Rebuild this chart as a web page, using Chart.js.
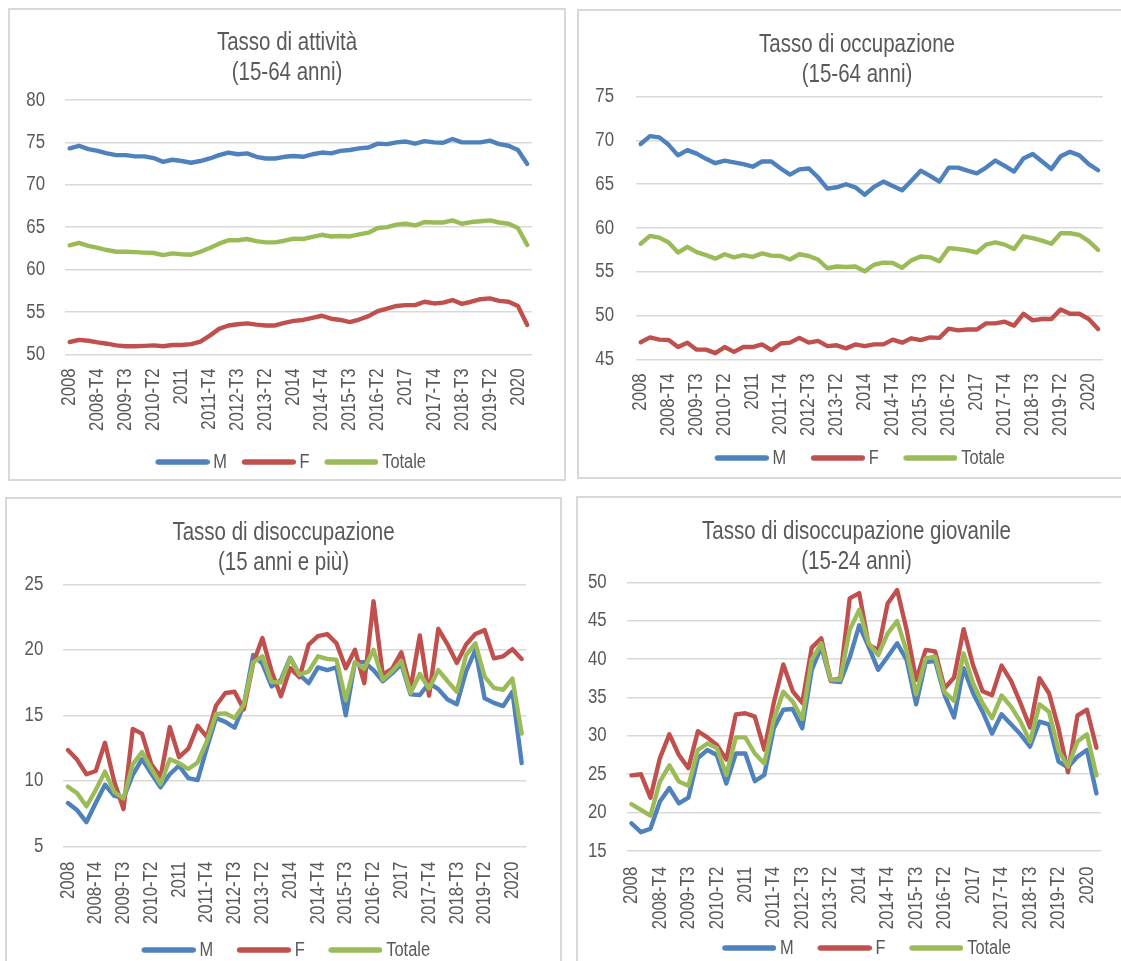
<!DOCTYPE html>
<html><head><meta charset="utf-8">
<script src="https://cdn.jsdelivr.net/npm/chart.js@4.4.1/dist/chart.umd.min.js"></script>
<style>
html,body{margin:0;padding:0;width:1121px;height:961px;overflow:hidden;background:#fff;}
canvas{position:absolute;}
.b{position:absolute;border:2px solid #d9d9d9;box-sizing:border-box;pointer-events:none;}
</style></head><body>
<script>
// ---- categories (quarters 2008-T1 .. 2020-T2) ----
const quarters = ['2008','2008-T2','2008-T3','2008-T4','2009','2009-T2','2009-T3','2009-T4',
 '2010','2010-T2','2010-T3','2010-T4','2011','2011-T2','2011-T3','2011-T4',
 '2012','2012-T2','2012-T3','2012-T4','2013','2013-T2','2013-T3','2013-T4',
 '2014','2014-T2','2014-T3','2014-T4','2015','2015-T2','2015-T3','2015-T4',
 '2016','2016-T2','2016-T3','2016-T4','2017','2017-T2','2017-T3','2017-T4',
 '2018','2018-T2','2018-T3','2018-T4','2019','2019-T2','2019-T3','2019-T4',
 '2020','2020-T2'];
const seriesNames = ['M','F','Totale'];

// ---- Tasso di attività (15-64 anni) ----
const attM = [74.3,74.6,74.2,74.0,73.7,73.5,73.5,73.35,73.35,73.15,72.7,72.95,72.8,72.6,72.8,73.1,73.5,73.8,73.6,73.7,73.3,73.1,73.1,73.3,73.4,73.3,73.6,73.8,73.7,74.0,74.1,74.3,74.4,74.85,74.8,75.0,75.1,74.85,75.15,75.0,74.95,75.4,75.0,75.0,75.0,75.2,74.8,74.6,74.1,72.45];
const attF = [51.45,51.7,51.6,51.4,51.25,51.05,50.95,50.95,51.0,51.05,50.95,51.1,51.1,51.2,51.5,52.2,53.0,53.4,53.55,53.65,53.5,53.4,53.4,53.7,53.95,54.05,54.3,54.55,54.2,54.05,53.8,54.1,54.5,55.1,55.4,55.7,55.8,55.8,56.2,56.0,56.1,56.4,55.95,56.2,56.5,56.6,56.3,56.2,55.7,53.45];
const attT = [62.85,63.15,62.8,62.55,62.3,62.1,62.1,62.05,62.0,61.95,61.7,61.9,61.8,61.75,62.1,62.55,63.05,63.45,63.45,63.6,63.35,63.2,63.2,63.4,63.65,63.6,63.85,64.1,63.9,63.95,63.9,64.15,64.35,64.9,65.0,65.3,65.4,65.2,65.6,65.55,65.55,65.8,65.4,65.6,65.7,65.8,65.55,65.4,64.9,62.9];

// ---- Tasso di occupazione (15-64 anni) ----
const occM = [69.6,70.5,70.35,69.5,68.3,68.9,68.5,67.9,67.4,67.7,67.5,67.3,67.0,67.6,67.6,66.8,66.1,66.7,66.8,65.8,64.5,64.65,65.0,64.65,63.8,64.7,65.3,64.8,64.3,65.4,66.55,65.95,65.3,66.9,66.9,66.55,66.25,66.9,67.7,67.1,66.45,67.95,68.45,67.6,66.75,68.2,68.7,68.3,67.3,66.6];
const occF = [46.95,47.5,47.25,47.2,46.4,46.9,46.1,46.1,45.7,46.4,45.85,46.4,46.4,46.7,46.05,46.8,46.9,47.45,46.9,47.1,46.5,46.6,46.25,46.7,46.5,46.7,46.7,47.25,46.9,47.4,47.2,47.5,47.45,48.5,48.3,48.4,48.4,49.1,49.1,49.3,48.85,50.2,49.45,49.6,49.6,50.7,50.2,50.2,49.6,48.45];
const occT = [58.2,59.1,58.9,58.35,57.2,57.85,57.25,56.9,56.5,57.0,56.65,56.9,56.7,57.1,56.85,56.8,56.4,57.0,56.8,56.4,55.4,55.6,55.55,55.6,55.05,55.8,56.05,56.0,55.45,56.3,56.75,56.65,56.2,57.7,57.6,57.45,57.2,58.1,58.35,58.1,57.6,59.05,58.85,58.55,58.2,59.4,59.4,59.2,58.5,57.5];

// ---- Tasso di disoccupazione (15 anni e più) ----
const disM = [8.3,7.75,6.85,8.3,9.7,8.85,8.7,10.45,11.65,10.55,9.5,10.5,11.15,10.2,10.05,12.5,14.8,14.5,14.05,15.8,19.6,18.95,17.2,17.7,19.4,18.1,17.45,18.65,18.45,18.65,15.0,19.05,19.05,18.45,17.6,18.2,18.9,16.6,16.55,17.45,17.0,16.2,15.85,18.35,20.0,16.3,15.95,15.7,16.8,11.35];
const disF = [12.35,11.6,10.5,10.75,12.9,9.95,7.85,13.95,13.6,11.25,10.3,14.1,11.8,12.45,14.2,13.35,15.75,16.7,16.8,15.45,18.95,20.9,18.35,16.45,18.6,17.9,20.4,21.05,21.2,20.5,18.6,20.0,17.45,23.7,18.1,18.55,19.8,17.05,21.1,16.5,21.6,20.4,19.0,20.4,21.2,21.5,19.35,19.5,20.05,19.3];
const disT = [9.55,9.05,8.05,9.3,10.7,9.15,8.65,11.25,12.2,10.95,9.75,11.65,11.35,10.9,11.4,13.0,15.1,15.15,14.8,15.8,19.05,19.5,17.55,17.5,19.35,18.1,18.35,19.5,19.3,19.25,16.15,19.05,18.55,20.0,17.7,18.35,19.15,16.7,18.15,17.05,18.45,17.6,16.8,19.6,20.5,17.95,17.1,16.95,17.8,13.6];

// ---- Tasso di disoccupazione giovanile (15-24 anni) ----
const giovM = [18.6,17.45,17.9,21.45,23.2,21.2,21.95,27.1,28.15,27.5,23.8,27.7,27.7,24.1,24.9,31.0,33.4,33.5,31.0,38.6,41.6,37.15,37.0,40.2,44.4,41.6,38.6,40.3,42.05,39.9,34.1,39.6,39.75,35.3,32.4,38.8,35.55,33.15,30.3,32.8,31.5,30.2,28.6,31.85,31.5,26.65,25.9,27.3,28.15,22.5];
const giovF = [24.85,25.0,21.95,27.1,30.2,27.5,25.8,30.6,29.8,28.8,26.9,32.8,32.95,32.5,28.2,34.3,39.3,35.8,34.3,41.5,42.7,37.2,37.5,47.9,48.6,41.85,41.2,47.25,49.0,43.8,37.3,41.2,41.0,36.2,37.6,43.9,39.2,35.8,35.3,39.15,37.15,34.25,31.1,37.5,35.55,31.0,25.25,32.65,33.4,28.45];
const giovT = [21.1,20.35,19.6,24.05,26.15,24.05,23.5,28.15,29.0,28.4,24.9,29.8,29.8,27.7,26.4,32.1,35.75,34.45,32.2,39.9,42.05,37.3,37.3,43.8,46.4,42.05,40.5,43.35,44.95,41.0,35.4,40.1,40.3,35.7,34.55,40.75,36.85,34.25,32.3,35.25,33.8,31.85,29.25,34.1,33.15,28.15,26.0,29.25,30.2,24.85];

// ---- axis ranges ----
const attRange = [50, 80], occRange = [45, 75], disRange = [5, 25], giovRange = [15, 50];

// ---- styles / layout ----
const COLORS = ['#4F81BD', '#C0504D', '#9BBB59'];
const FONT = '"Liberation Sans", Arial, sans-serif';
const SX = 0.82; // horizontal condensing of text (Arial Narrow look)
const TXT = '#595959';
const TITLE_FS = 25, TITLE_LH = 30, TICK_FS = 20.5, LEG_FS = 20, LEG_PAD = 8, LEG_LINE = 54;

const panels = [
  {title:['Tasso di attività','(15-64 anni)'], data:[attM,attF,attT], range:attRange,
   box:{l:8,t:8,r:566,b:481}, plot:{l:65,r:550,t:100,b:354.3}, titleY:43.3, legendY:461.7, xOff:14, yGap:20,
   legX:155.3, legGap:14.6},
  {title:['Tasso di occupazione','(15-64 anni)'], data:[occM,occF,occT], range:occRange,
   box:{l:577,t:9,r:1137,b:479}, plot:{l:636,r:1104.4,t:96.7,b:359.3}, titleY:45, legendY:458.3, xOff:14, yGap:22,
   legX:714.5, legGap:24.5},
  {title:['Tasso di disoccupazione','(15 anni e più)'], data:[disM,disF,disT], range:disRange,
   box:{l:5,t:497,r:562,b:990}, plot:{l:63.3,r:530,t:584.3,b:846.3}, titleY:533.3, legendY:950, xOff:15.4, yGap:20,
   legX:141.4, legGap:23.6},
  {title:['Tasso di disoccupazione giovanile','(15-24 anni)'], data:[giovM,giovF,giovT], range:giovRange,
   box:{l:576,t:496,r:1137,b:990}, plot:{l:626.7,r:1111,t:582.3,b:851}, titleY:531.7, legendY:948, xOff:15.7, yGap:20,
   legX:722.1, legGap:23.7}
];

function patchCtx(ctx) {
  const fill = ctx.fillText.bind(ctx);
  const measure = ctx.measureText.bind(ctx);
  ctx.fillText = function(t, x, y) {
    ctx.save(); ctx.translate(x, y); ctx.scale(SX, 1); fill(t, 0, 0); ctx.restore();
  };
  ctx.measureText = function(t) {
    const m = measure(t);
    return {width: m.width * SX,
      actualBoundingBoxLeft: m.actualBoundingBoxLeft * SX, actualBoundingBoxRight: m.actualBoundingBoxRight * SX,
      actualBoundingBoxAscent: m.actualBoundingBoxAscent, actualBoundingBoxDescent: m.actualBoundingBoxDescent,
      fontBoundingBoxAscent: m.fontBoundingBoxAscent, fontBoundingBoxDescent: m.fontBoundingBoxDescent};
  };
}

// legend swatch: a line of LEG_LINE px placed at the right end of an image (bw + 12) wide
function legendSwatch(color, bw) {
  const c = document.createElement('canvas');
  const w = Math.round(bw + 12);
  c.width = w; c.height = 8;
  const g = c.getContext('2d');
  g.strokeStyle = color; g.lineWidth = 5.5; g.lineCap = 'round';
  g.beginPath(); g.moveTo(w - LEG_LINE + 2.75, 4); g.lineTo(w - 2.75, 4); g.stroke();
  return c;
}

function makePanel(p) {
  const W = p.box.r - p.box.l;
  const padTop = (p.titleY - p.box.t) - TITLE_LH / 2;
  const padBottom = (p.plot.t - p.box.t) - padTop - 2 * TITLE_LH;
  const H = Math.round(p.legendY - p.box.t + 20);
  const legendTop = H - 30 - LEG_PAD;
  const xAxisH = legendTop - (p.plot.b - p.box.t);
  const yAxisW = p.plot.l - p.box.l;
  const padRight = p.box.r - p.plot.r;
  const bw = p.legGap - LEG_PAD - 6 + LEG_LINE;
  const legLeft = (p.legX - p.box.l) - LEG_PAD - bw - 6 + LEG_LINE;

  const cv = document.createElement('canvas');
  cv.width = W; cv.height = H;
  cv.style.left = p.box.l + 'px'; cv.style.top = p.box.t + 'px';
  cv.style.width = W + 'px'; cv.style.height = H + 'px';
  document.body.appendChild(cv);
  patchCtx(cv.getContext('2d'));

  const bd = document.createElement('div');
  bd.className = 'b';
  bd.style.left = p.box.l + 'px'; bd.style.top = p.box.t + 'px';
  bd.style.width = W + 'px'; bd.style.height = (p.box.b - p.box.t) + 'px';
  document.body.appendChild(bd);

  const placeBoxes = {
    id: 'placeBoxes',
    afterLayout(chart) {
      const lg = chart.legend;
      const lw = lg.right - lg.left;
      lg.left = legLeft; lg.right = legLeft + lw;
      const tb = chart.titleBlock;
      tb.left = padRight / 2; tb.right = W - padRight / 2;
    }
  };

  new Chart(cv, {
    type: 'line',
    data: {
      labels: quarters,
      datasets: p.data.map((d, k) => ({
        label: seriesNames[k], data: d,
        borderColor: COLORS[k], backgroundColor: COLORS[k],
        borderWidth: 4.4, pointRadius: 0, tension: 0, pointStyle: legendSwatch(COLORS[k], bw),
        borderJoinStyle: 'round', borderCapStyle: 'round',
        order: 2 - k
      }))
    },
    plugins: [placeBoxes],
    options: {
      responsive: false, animation: false, devicePixelRatio: 1,
      layout: {padding: {left: 0, top: 0, right: padRight, bottom: 0}},
      plugins: {
        tooltip: {enabled: false},
        title: {display: true, text: p.title, color: TXT,
          font: {family: FONT, size: TITLE_FS, weight: 'normal', lineHeight: TITLE_LH / TITLE_FS},
          padding: {top: padTop, bottom: padBottom}},
        legend: {position: 'bottom', align: 'start',
          labels: {color: TXT, font: {family: FONT, size: LEG_FS}, padding: LEG_PAD,
            usePointStyle: true, pointStyleWidth: bw,
            sort: (a, b) => a.datasetIndex - b.datasetIndex}}
      },
      scales: {
        x: {
          offset: true,
          grid: {display: false, drawTicks: false},
          border: {display: false},
          ticks: {color: TXT, font: {family: FONT, size: TICK_FS}, autoSkip: false,
            minRotation: 90, maxRotation: 90, padding: p.xOff,
            callback: function(v, i) { return i % 3 === 0 ? this.getLabelForValue(v) : ''; }},
          afterFit: s => { s.height = xAxisH; }
        },
        y: {
          min: p.range[0], max: p.range[1],
          grid: {color: '#d9d9d9', lineWidth: 1.5, drawTicks: false},
          border: {display: false},
          ticks: {color: TXT, font: {family: FONT, size: TICK_FS}, stepSize: 5, padding: p.yGap},
          afterFit: s => { s.width = yAxisW; }
        }
      }
    }
  });
}
panels.forEach(makePanel);
</script>
</body></html>
